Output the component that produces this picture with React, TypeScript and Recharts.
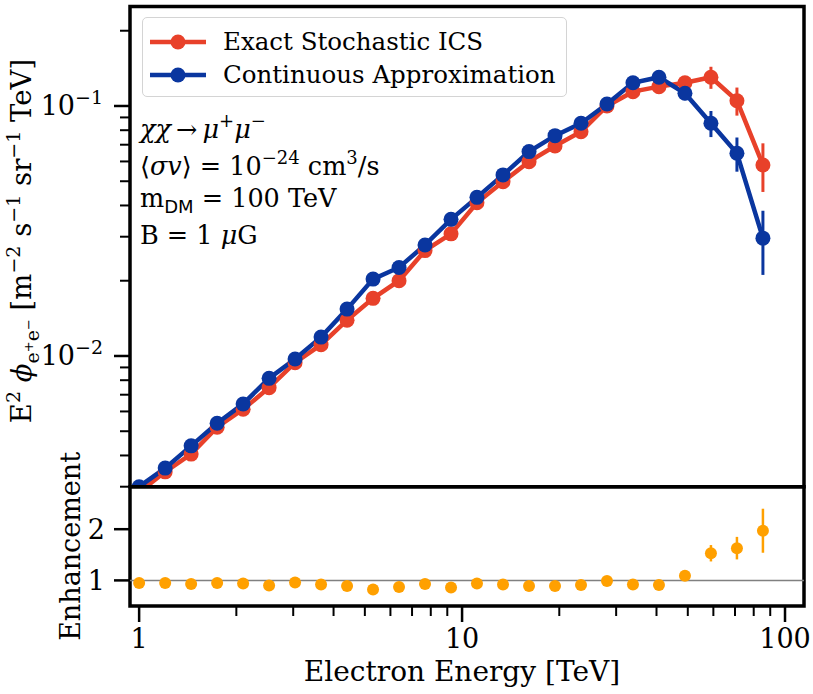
import React from "react";
import {
  LineChart,
  Line,
  ScatterChart,
  Scatter,
  XAxis,
  YAxis,
  ErrorBar,
  ReferenceArea,
  ReferenceLine,
  Legend,
} from "recharts";

// electron energy bin centres [TeV]
const energy = [
  1.0, 1.204, 1.449, 1.744, 2.099, 2.526, 3.04, 3.659, 4.404, 5.301, 6.38, 7.679, 9.243,
  11.12, 13.39, 16.12, 19.4, 23.35, 28.1, 33.82, 40.71, 49.0, 58.97, 70.98, 85.43,
];
const exactFlux = [
  0.00285, 0.00344, 0.00405, 0.00519, 0.00612, 0.00747, 0.0094, 0.0111, 0.0139, 0.017, 0.02,
  0.0264, 0.0308, 0.041, 0.0498, 0.0599, 0.0692, 0.0789, 0.1, 0.1141, 0.1195, 0.1239, 0.1303,
  0.105, 0.0581,
];
const exactErr = [
  0, 0, 0, 0, 0, 0, 0, 0, 0, 0, 0, 0, 0, 0, 0, 0, 0, 0, 0, 0, 0.003, 0.0057, 0.0132, 0.0135,
  0.0128,
];
const contFlux = [
  0.003, 0.00356, 0.00437, 0.00538, 0.00643, 0.00814, 0.00972, 0.0119, 0.0154, 0.0203, 0.0226,
  0.0278, 0.0352, 0.0431, 0.053, 0.0657, 0.0761, 0.0853, 0.1019, 0.1239, 0.1303, 0.1124, 0.0853,
  0.0647, 0.0296,
];
const contErr = [
  0, 0, 0, 0, 0, 0, 0, 0, 0, 0, 0, 0, 0, 0, 0, 0, 0, 0, 0, 0, 0.002, 0.0069, 0.0102, 0.0101,
  0.0085,
];
const enhancement = [
  0.95, 0.95, 0.93, 0.95, 0.94, 0.9, 0.96, 0.92, 0.89, 0.82, 0.87, 0.93, 0.86, 0.94, 0.92, 0.89,
  0.89, 0.91, 0.99, 0.92, 0.91, 1.09, 1.53, 1.63, 1.97,
];
const enhancementErr = [
  0, 0, 0, 0, 0, 0, 0, 0, 0, 0, 0, 0, 0, 0, 0, 0, 0, 0, 0, 0, 0, 0.05, 0.16, 0.22, 0.43,
];

const fluxTicks = [
  0.003, 0.004, 0.005, 0.006, 0.007, 0.008, 0.009, 0.01, 0.02, 0.03, 0.04, 0.05, 0.06, 0.07,
  0.08, 0.09, 0.1, 0.2,
];
const energyTicks = [1, 2, 3, 4, 5, 6, 7, 8, 9, 10, 20, 30, 40, 50, 60, 70, 80, 90, 100];
const enhancementTicks = [1, 2];

const X_DOMAIN = [0.937, 114.5];
const FLUX_DOMAIN = [0.003, 0.25];
const ENH_DOMAIN = [0.5, 2.83];

const RED = "#e8412a";
const BLUE = "#0a369f";
const ORANGE = "#ffa000";
const FONT = "'DejaVu Serif', serif";

const fluxData = energy.map((e, i) => ({
  e,
  exact: exactFlux[i],
  exactErr: exactErr[i],
  cont: contFlux[i],
  contErr: contErr[i],
}));
const enhData = energy.map((e, i) => ({ e, enh: enhancement[i], enhErr: enhancementErr[i] }));

const isDecade = (v: number) => Math.abs(Math.log10(v) - Math.round(Math.log10(v))) < 1e-6;

function FluxTick({ x, y, payload }: any) {
  const v = payload.value;
  const major = isDecade(v);
  return (
    <g>
      <line x1={x} x2={x - (major ? 16 : 10)} y1={y} y2={y} stroke="#000" strokeWidth={major ? 2.5 : 2} />
      {major && (
        <text x={x - 27} y={y + 9} textAnchor="end" fontSize={27} fontFamily={FONT} fill="#000">
          10
          <tspan dy={-11} fontSize={19}>
            {"\u2212" + Math.round(-Math.log10(v))}
          </tspan>
        </text>
      )}
    </g>
  );
}

function EnhTick({ x, y, payload }: any) {
  return (
    <g>
      <line x1={x} x2={x - 16} y1={y} y2={y} stroke="#000" strokeWidth={2.5} />
      <text x={x - 25} y={y + 10} textAnchor="end" fontSize={27} fontFamily={FONT} fill="#000">
        {payload.value}
      </text>
    </g>
  );
}

function EnergyTick({ x, y, payload }: any) {
  const v = payload.value;
  const major = isDecade(v);
  return (
    <g>
      <line x1={x} x2={x} y1={y} y2={y + (major ? 16 : 10)} stroke="#000" strokeWidth={major ? 2.5 : 2} />
      {major && (
        <text x={x} y={y + 42} textAnchor="middle" fontSize={27} fontFamily={FONT} fill="#000">
          {v}
        </text>
      )}
    </g>
  );
}

function FluxLabel() {
  return (
    <text transform="translate(31, 241) rotate(-90)" textAnchor="middle" fontSize={27.5} fontFamily={FONT} fill="#000">
      E<tspan dy={-11} fontSize={19}>2</tspan>
      <tspan dy={11}> </tspan>
      <tspan fontStyle="italic">ϕ</tspan>
      <tspan dy={8} fontSize={19}>e</tspan>
      <tspan dy={-6} fontSize={13}>+</tspan>
      <tspan dy={6} fontSize={19}>e</tspan>
      <tspan dy={-6} fontSize={13}>−</tspan>
      <tspan dy={-2}>  [m</tspan>
      <tspan dy={-11} fontSize={19}>−2</tspan>
      <tspan dy={11}> s</tspan>
      <tspan dy={-11} fontSize={19}>−1</tspan>
      <tspan dy={11}> sr</tspan>
      <tspan dy={-11} fontSize={19}>−1</tspan>
      <tspan dy={11}> TeV]</tspan>
    </text>
  );
}

function EnhLabel() {
  return (
    <text transform="translate(80, 106.4) rotate(-90)" textAnchor="middle" fontSize={27} fontFamily={FONT} fill="#000">
      Enhancement
    </text>
  );
}

function EnergyLabel({ viewBox }: any) {
  const cx = viewBox.x + viewBox.width / 2 - 5;
  return (
    <text x={cx} y={viewBox.y + 75} textAnchor="middle" fontSize={28} fontFamily={FONT} fill="#000">
      Electron Energy [TeV]
    </text>
  );
}

const legendItems = [
  { name: "Exact Stochastic ICS", color: RED },
  { name: "Continuous Approximation", color: BLUE },
];

function LegendBox() {
  return (
    <div
      style={{
        border: "1.5px solid #d4d4d4",
        borderRadius: 5,
        background: "rgba(255,255,255,0.85)",
        padding: "7px 10px 5px 7px",
        fontFamily: FONT,
        fontSize: 24.5,
        lineHeight: "33px",
      }}
    >
      {legendItems.map((it) => (
        <div key={it.name} style={{ display: "flex", alignItems: "center", whiteSpace: "nowrap" }}>
          <svg width={56} height={20} style={{ marginRight: 17 }}>
            <line x1={0} x2={56} y1={10} y2={10} stroke={it.color} strokeWidth={4.5} />
            <circle cx={28} cy={10} r={7.5} fill={it.color} />
          </svg>
          <span>{it.name}</span>
        </div>
      ))}
    </div>
  );
}

function Annotation() {
  const t = { fontSize: 25.5, fontFamily: FONT, fill: "#000" } as const;
  return (
    <g>
      <text x={140} y={138} {...t}>
        <tspan fontStyle="italic">χχ</tspan>
        <tspan>{"\u2009→\u2009"}</tspan>
        <tspan fontStyle="italic">μ</tspan>
        <tspan dy={-11} fontSize={18}>+</tspan>
        <tspan dy={11} fontStyle="italic">μ</tspan>
        <tspan dy={-11} fontSize={18}>−</tspan>
      </text>
      <text x={140} y={175} {...t}>
        ⟨<tspan fontStyle="italic">σv</tspan>⟩ = 10
        <tspan dy={-11} fontSize={18}>−24</tspan>
        <tspan dy={11}> cm</tspan>
        <tspan dy={-11} fontSize={18}>3</tspan>
        <tspan dy={11}>/s</tspan>
      </text>
      <text x={140} y={207} {...t}>
        m
        <tspan dy={6} fontSize={18} fontFamily="'DejaVu Sans', sans-serif">DM</tspan>
        <tspan dy={-6}> = 100 TeV</tspan>
      </text>
      <text x={140} y={244} {...t}>
        B = 1 <tspan fontStyle="italic">μ</tspan>G
      </text>
    </g>
  );
}

export default function App() {
  return (
    <div style={{ position: "absolute", left: 0, top: 0, width: 813, height: 694, background: "#fff" }}>
      <div style={{ position: "absolute", left: 0, top: 0 }}>
        <LineChart width={813} height={490} data={fluxData} margin={{ top: 6.5, right: 9, bottom: 3.3, left: 0 }}>
          <XAxis type="number" dataKey="e" scale="log" domain={X_DOMAIN} allowDataOverflow hide />
          <YAxis
            type="number"
            scale="log"
            domain={FLUX_DOMAIN}
            allowDataOverflow
            ticks={fluxTicks}
            interval={0}
            width={130}
            tickSize={0}
            tickMargin={0}
            axisLine={false}
            tickLine={false}
            tick={<FluxTick />}
            label={<FluxLabel />}
          />
          <ReferenceArea
            x1={X_DOMAIN[0]}
            x2={X_DOMAIN[1]}
            y1={FLUX_DOMAIN[0]}
            y2={FLUX_DOMAIN[1]}
            fill="none"
            fillOpacity={0}
            stroke="#000"
            strokeWidth={3.5}
            ifOverflow="visible"
          />
          <Line
            dataKey="exact"
            stroke={RED}
            strokeWidth={4.5}
            dot={{ r: 7.5, fill: RED, stroke: RED, strokeWidth: 0 }}
            isAnimationActive={false}
          >
            <ErrorBar dataKey="exactErr" direction="y" width={0} stroke={RED} strokeWidth={3} />
          </Line>
          <Line
            dataKey="cont"
            stroke={BLUE}
            strokeWidth={4.5}
            dot={{ r: 7.5, fill: BLUE, stroke: BLUE, strokeWidth: 0 }}
            isAnimationActive={false}
          >
            <ErrorBar dataKey="contErr" direction="y" width={0} stroke={BLUE} strokeWidth={3} />
          </Line>
          <Legend
            layout="vertical"
            align="center"
            verticalAlign="middle"
            wrapperStyle={{ top: 17, left: 142, width: "auto", height: "auto" }}
            content={() => <LegendBox />}
          />
          <Annotation />
        </LineChart>
      </div>
      <div style={{ position: "absolute", left: 0, top: 440 }}>
        <ScatterChart width={813} height={254} margin={{ top: 46.7, right: 9, bottom: 0, left: 0 }}>
          <XAxis
            type="number"
            dataKey="e"
            scale="log"
            domain={X_DOMAIN}
            allowDataOverflow
            ticks={energyTicks}
            interval={0}
            height={88}
            tickSize={0}
            tickMargin={0}
            axisLine={false}
            tickLine={false}
            tick={<EnergyTick />}
            label={<EnergyLabel />}
          />
          <YAxis
            type="number"
            dataKey="enh"
            domain={ENH_DOMAIN}
            allowDataOverflow
            ticks={enhancementTicks}
            interval={0}
            width={130}
            tickSize={0}
            tickMargin={0}
            axisLine={false}
            tickLine={false}
            tick={<EnhTick />}
            label={<EnhLabel />}
          />
          <ReferenceLine y={1} stroke="#808080" strokeWidth={1.5} />
          <ReferenceArea
            x1={X_DOMAIN[0]}
            x2={X_DOMAIN[1]}
            y1={ENH_DOMAIN[0]}
            y2={ENH_DOMAIN[1]}
            fill="none"
            fillOpacity={0}
            stroke="#000"
            strokeWidth={3.5}
            ifOverflow="visible"
          />
          <Scatter
            data={enhData}
            dataKey="enh"
            fill={ORANGE}
            isAnimationActive={false}
            shape={(p: any) => <circle cx={p.cx} cy={p.cy} r={6} fill={ORANGE} />}
          >
            <ErrorBar dataKey="enhErr" direction="y" width={0} stroke={ORANGE} strokeWidth={2.5} />
          </Scatter>
        </ScatterChart>
      </div>
    </div>
  );
}
